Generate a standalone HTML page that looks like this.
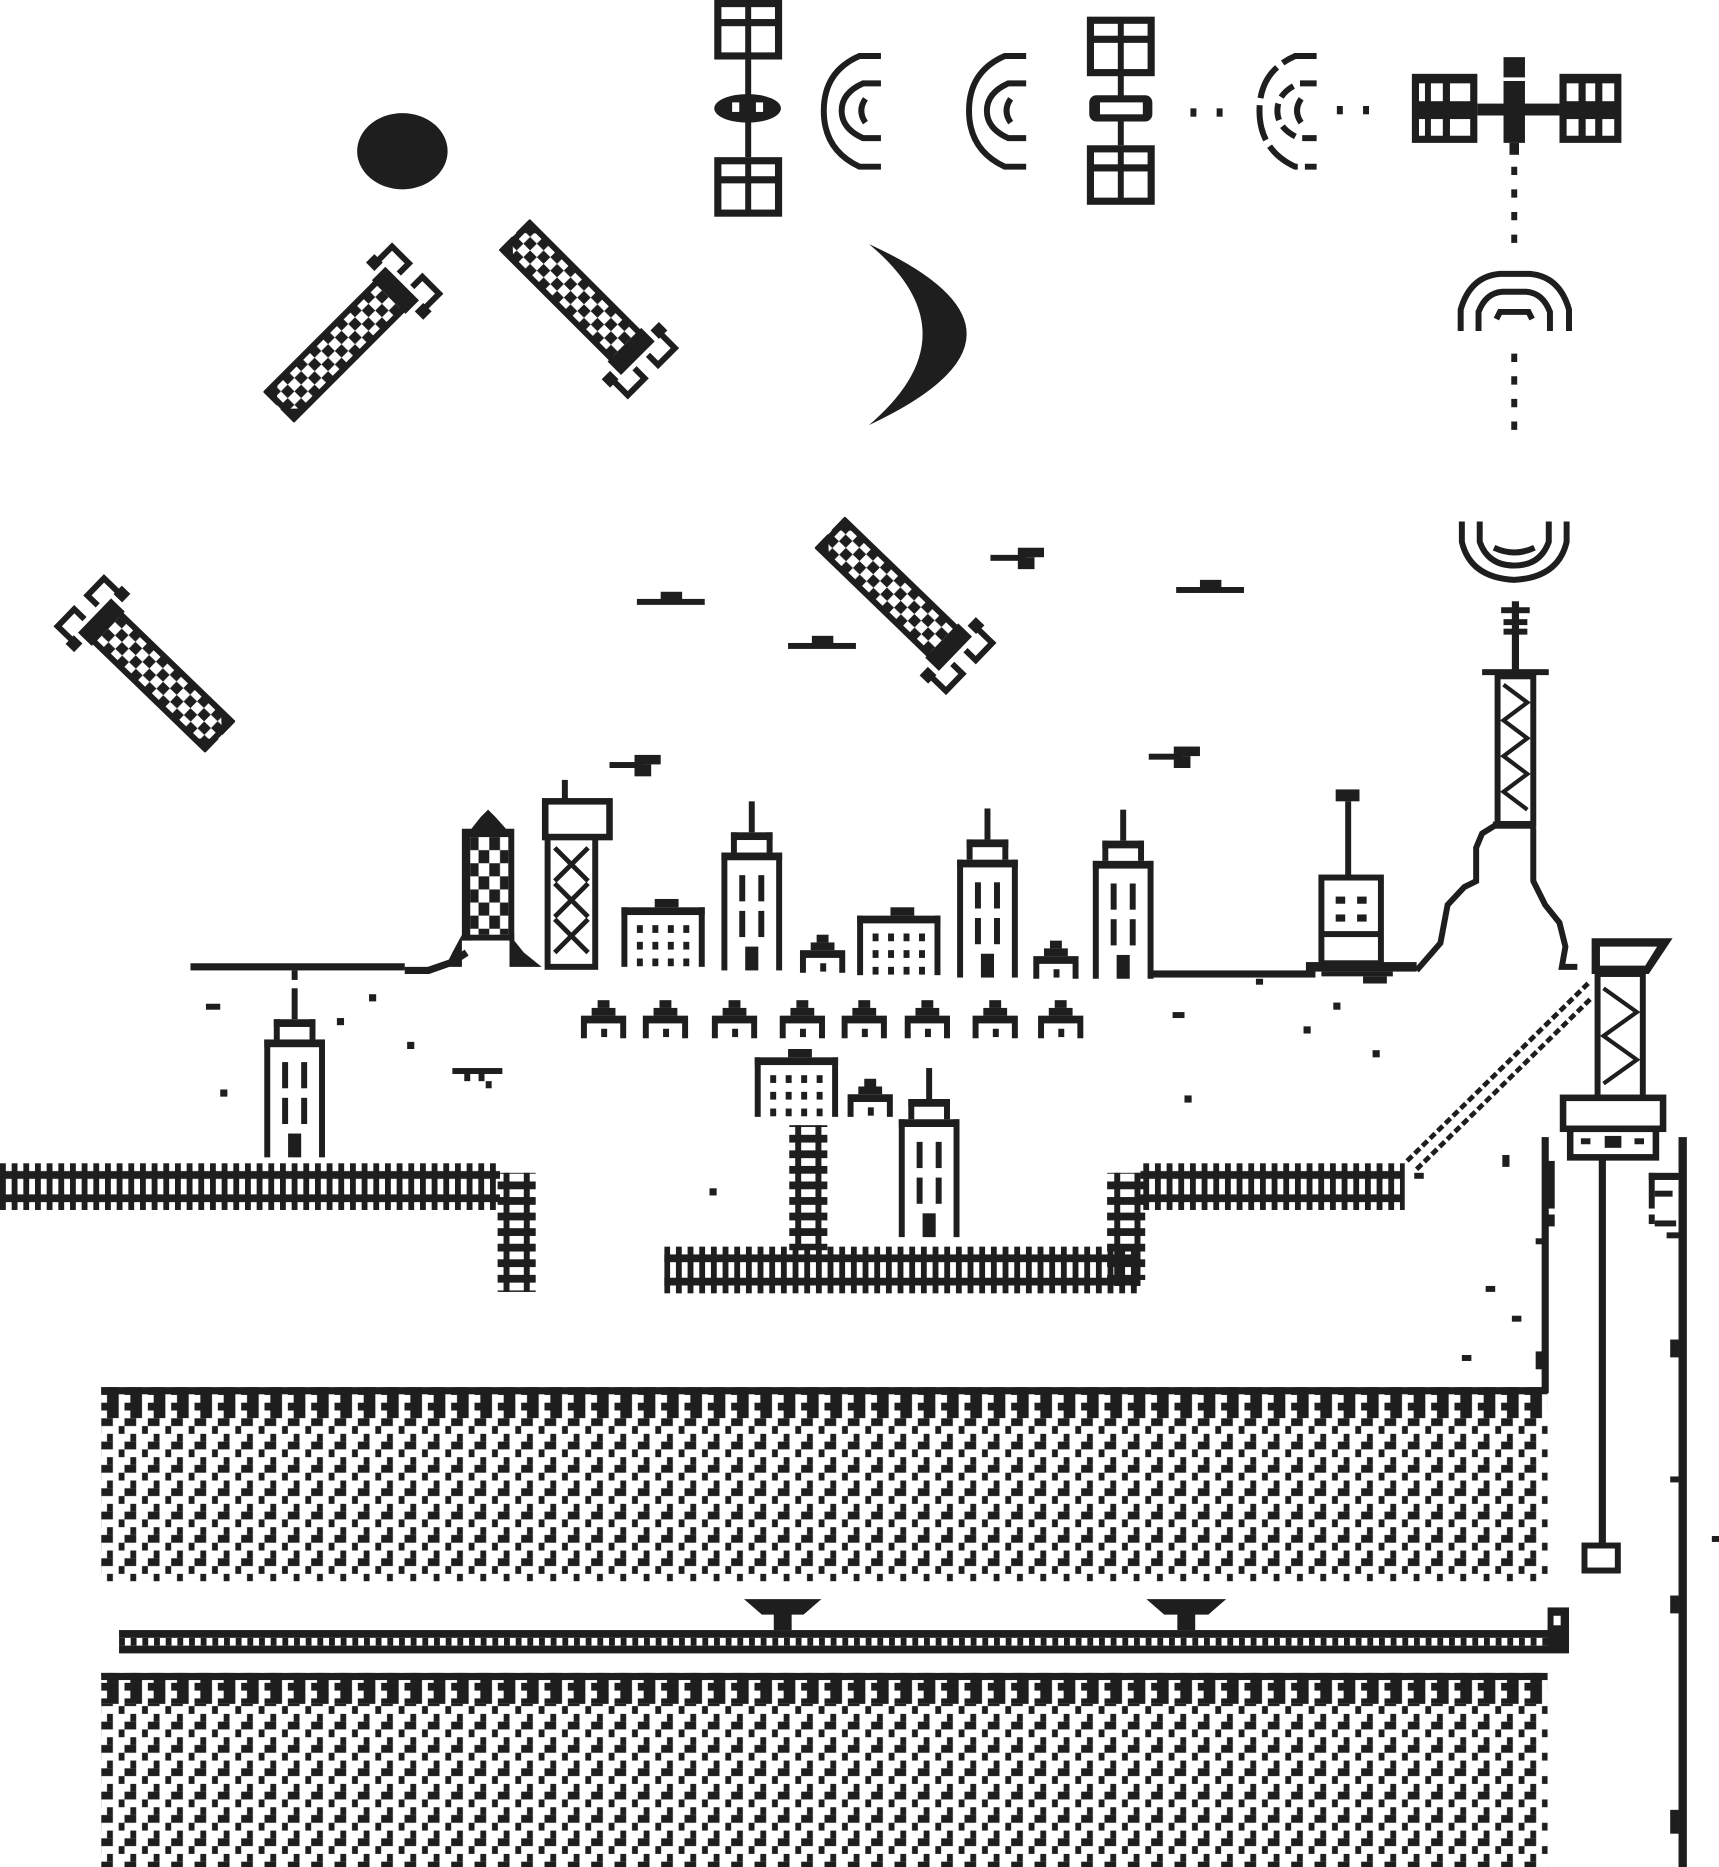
<!DOCTYPE html>
<html><head><meta charset="utf-8"><style>html,body{margin:0;padding:0;background:#fff}svg{display:block}</style></head>
<body>
<svg width="1719" height="1867" viewBox="0 0 1444 1568" preserveAspectRatio="none" xmlns="http://www.w3.org/2000/svg">
<defs>
<pattern id="tex" width="19.6" height="19.6" patternUnits="userSpaceOnUse" x="85" y="1165">
<rect x="4.9" y="0" width="4.9" height="6.53" fill="#1e1e1e"/>
<rect x="0" y="6.53" width="9.8" height="6.53" fill="#1e1e1e"/>
<rect x="14.7" y="13.07" width="4.9" height="6.53" fill="#1e1e1e"/>
</pattern>
<pattern id="texd" width="19.6" height="13.07" patternUnits="userSpaceOnUse" x="85" y="1165">
<rect x="0" y="0" width="14.7" height="6.53" fill="#1e1e1e"/>
<rect x="4.9" y="6.53" width="9.8" height="6.53" fill="#1e1e1e"/>
</pattern>
<pattern id="rail" width="9.8" height="19.6" patternUnits="userSpaceOnUse" x="100" y="1369">
<rect x="0" y="0" width="9.8" height="6.53" fill="#1e1e1e"/>
<rect x="0" y="6.53" width="4.9" height="6.53" fill="#1e1e1e"/>
<rect x="0" y="13.07" width="9.8" height="6.53" fill="#1e1e1e"/>
</pattern>
<pattern id="trk1" width="9.8" height="39.2" patternUnits="userSpaceOnUse" x="0" y="977">
<rect x="0" y="6.53" width="9.8" height="6.53" fill="#1e1e1e"/>
<rect x="0" y="26.1" width="9.8" height="6.53" fill="#1e1e1e"/>
<rect x="0" y="0" width="4.9" height="39.2" fill="#1e1e1e"/>
</pattern>
<pattern id="trk2" width="9.8" height="39.2" patternUnits="userSpaceOnUse" x="558" y="1047">
<rect x="0" y="6.53" width="9.8" height="6.53" fill="#1e1e1e"/>
<rect x="0" y="26.1" width="9.8" height="6.53" fill="#1e1e1e"/>
<rect x="0" y="0" width="4.9" height="39.2" fill="#1e1e1e"/>
</pattern>
<pattern id="trkv" width="30" height="13.07" patternUnits="userSpaceOnUse" x="0" y="940">
<rect x="0" y="0" width="30" height="6.53" fill="#1e1e1e"/>
</pattern>
<pattern id="chk" width="16" height="16" patternUnits="userSpaceOnUse">
<rect x="0" y="0" width="8" height="8" fill="#1e1e1e"/><rect x="8" y="8" width="8" height="8" fill="#1e1e1e"/>
</pattern>
<pattern id="chk2" width="18" height="22" patternUnits="userSpaceOnUse" x="393" y="703">
<rect x="0" y="0" width="9" height="11" fill="#1e1e1e"/><rect x="9" y="11" width="9" height="11" fill="#1e1e1e"/>
</pattern>
<g id="tall" fill="#1e1e1e">
<rect x="23" y="0" width="5" height="26"/>
<rect x="8" y="26" width="35" height="6.5"/><rect x="8" y="26" width="5" height="17"/><rect x="38" y="26" width="5" height="17"/>
<rect x="0" y="43" width="51" height="6.5"/><rect x="0" y="43" width="5" height="99"/><rect x="46" y="43" width="5" height="99"/>
<rect x="15" y="62" width="5" height="22"/><rect x="31" y="62" width="5" height="22"/>
<rect x="15" y="92" width="5" height="22"/><rect x="31" y="92" width="5" height="22"/>
<rect x="20" y="122" width="11" height="20"/>
</g>
<g id="house" fill="#1e1e1e">
<rect x="14" y="0" width="10" height="6.5"/><rect x="9" y="6.5" width="20" height="6.5"/><rect x="0" y="13" width="38" height="6.5"/>
<rect x="0" y="19" width="5" height="13"/><rect x="33" y="19" width="5" height="13"/><rect x="17" y="24" width="5" height="7"/>
</g>
<g id="office" fill="#1e1e1e">
<rect x="28" y="0" width="20" height="7"/><rect x="0" y="7" width="70" height="6.5"/>
<rect x="0" y="7" width="5" height="50"/><rect x="65" y="7" width="5" height="50"/>
<g id="wr"><rect x="13" y="22" width="5" height="6.5"/><rect x="26" y="22" width="5" height="6.5"/><rect x="39" y="22" width="5" height="6.5"/><rect x="52" y="22" width="5" height="6.5"/></g>
<use href="#wr" y="14"/><use href="#wr" y="28"/>
</g>
<g id="rocket">
<rect x="0" y="-16" width="135" height="32" fill="url(#chk)" stroke="#1e1e1e" stroke-width="5"/>
<polygon points="-3,-18 14,-18 -3,-2" fill="#1e1e1e"/>
<polygon points="-3,18 14,18 -3,2" fill="#1e1e1e"/>
<rect x="128" y="-20" width="16" height="40" fill="#1e1e1e"/>
<path d="M144,-28 L160,-28 L160,-8 L148,-8" fill="none" stroke="#1e1e1e" stroke-width="5"/>
<path d="M144,28 L160,28 L160,8 L148,8" fill="none" stroke="#1e1e1e" stroke-width="5"/>
<rect x="135" y="-34" width="10" height="10" fill="#1e1e1e"/>
<rect x="135" y="24" width="10" height="10" fill="#1e1e1e"/>
</g>
<g id="panel" fill="#1e1e1e">
<rect x="0" y="0" width="57" height="50"/>
<rect x="6" y="6" width="20" height="10" fill="#fff"/><rect x="31" y="6" width="20" height="10" fill="#fff"/>
<rect x="6" y="22" width="20" height="22" fill="#fff"/><rect x="31" y="22" width="20" height="22" fill="#fff"/>
</g>
<g id="bird" fill="#1e1e1e"><rect x="0" y="6" width="57" height="5"/><rect x="20" y="0" width="18" height="8"/></g>
</defs>

<!-- bottom ground -->
<rect x="85" y="1165" width="1215" height="163" fill="url(#tex)"/>
<rect x="85" y="1165" width="1215" height="26" fill="#fff"/>
<rect x="85" y="1165" width="1215" height="26" fill="url(#texd)"/>
<rect x="85" y="1165" width="1215" height="6" fill="#1e1e1e"/>
<rect x="85" y="1405" width="1215" height="163" fill="url(#tex)"/>
<rect x="85" y="1405" width="1215" height="26" fill="#fff"/>
<rect x="85" y="1405" width="1215" height="26" fill="url(#texd)"/>
<rect x="85" y="1405" width="1215" height="6" fill="#1e1e1e"/>
<rect x="100" y="1369" width="1218" height="19.6" fill="url(#rail)"/>
<rect x="1300" y="1350" width="18" height="38" fill="#1e1e1e"/><rect x="1305" y="1357" width="6" height="8" fill="#fff"/>
<polygon points="625,1343 690,1343 675,1356 665,1356 665,1369 650,1369 650,1356 640,1356" fill="#1e1e1e"/>
<polygon points="963,1343 1030,1343 1015,1356 1004,1356 1004,1369 989,1369 989,1356 978,1356" fill="#1e1e1e"/>

<!-- tracks -->
<rect x="0" y="977" width="420" height="39.2" fill="url(#trk1)"/>
<rect x="418" y="985" width="32" height="100" fill="url(#trkv)"/>
<rect x="423" y="985" width="5" height="100" fill="#1e1e1e"/><rect x="440" y="985" width="5" height="100" fill="#1e1e1e"/>
<rect x="558" y="1047" width="400" height="39.2" fill="url(#trk2)"/>
<rect x="663" y="945" width="32" height="105" fill="url(#trkv)"/>
<rect x="668" y="945" width="5" height="105" fill="#1e1e1e"/><rect x="685" y="945" width="5" height="105" fill="#1e1e1e"/>
<rect x="930" y="985" width="32" height="90" fill="url(#trkv)"/>
<rect x="936" y="985" width="5" height="95" fill="#1e1e1e"/><rect x="953" y="985" width="5" height="95" fill="#1e1e1e"/>
<rect x="958" y="977" width="222" height="39.2" fill="url(#trk1)"/>
<line x1="1182" y1="975" x2="1335" y2="825" stroke="#1e1e1e" stroke-width="4" stroke-dasharray="6 3"/>
<line x1="1190" y1="982" x2="1337" y2="838" stroke="#1e1e1e" stroke-width="4" stroke-dasharray="6 3"/>

<!-- ground lines -->
<rect x="160" y="809" width="180" height="6" fill="#1e1e1e"/>
<polyline points="340,815 360,815 380,808 392,800" fill="none" stroke="#1e1e1e" stroke-width="6"/>
<rect x="965" y="815" width="140" height="6" fill="#1e1e1e"/>
<rect x="245" y="815" width="5" height="8" fill="#1e1e1e"/>

<!-- city -->
<polygon points="410,680 416,686 425,696 432,696 432,790 388,790 388,696 396,696 404,686" fill="#1e1e1e"/>
<rect x="395" y="703" width="32" height="82" fill="#fff"/>
<rect x="395" y="703" width="32" height="82" fill="url(#chk2)"/>
<polygon points="388,785 388,812 374,812 380,800" fill="#1e1e1e"/>
<polygon points="432,785 432,790 440,800 455,812 428,812 428,785" fill="#1e1e1e"/>
<rect x="397" y="790" width="30" height="22" fill="#fff"/>
<rect x="472" y="655" width="5" height="18" fill="#1e1e1e"/>
<rect x="458" y="673" width="54" height="30" fill="none" stroke="#1e1e1e" stroke-width="5.5"/>
<rect x="460" y="703" width="40" height="109" fill="none" stroke="#1e1e1e" stroke-width="5"/>
<path d="M466,712 L494,740 M494,712 L466,740 M466,742 L494,770 M494,742 L466,770 M466,772 L494,800 M494,772 L466,800" stroke="#1e1e1e" stroke-width="4"/>
<use href="#office" x="522" y="755"/>
<use href="#tall" x="606" y="673"/>
<use href="#house" x="672" y="785"/>
<use href="#office" x="720" y="762"/>
<use href="#tall" x="804" y="679"/>
<use href="#house" x="868" y="790"/>
<use href="#tall" x="918" y="680"/>
<use href="#house" x="488" y="840"/><use href="#house" x="540" y="840"/><use href="#house" x="598" y="840"/><use href="#house" x="655" y="840"/>
<use href="#house" x="707" y="840"/><use href="#house" x="760" y="840"/><use href="#house" x="817" y="840"/><use href="#house" x="872" y="840"/>
<use href="#office" x="634" y="881"/>
<use href="#house" x="712" y="906"/>
<use href="#tall" x="755" y="897"/>
<use href="#tall" x="222" y="830"/>

<!-- robot on ground -->
<g fill="#1e1e1e">
<rect x="1122" y="663" width="20" height="10"/><rect x="1130" y="673" width="5" height="64"/>
<rect x="1110" y="737" width="50" height="72" fill="none" stroke="#1e1e1e" stroke-width="5"/>
<rect x="1122" y="753" width="8" height="6"/><rect x="1140" y="753" width="8" height="6"/><rect x="1122" y="768" width="8" height="6"/><rect x="1140" y="768" width="8" height="6"/>
<rect x="1112" y="782" width="46" height="5"/>
<rect x="1097" y="808" width="93" height="8"/><rect x="1110" y="816" width="60" height="4"/><rect x="1145" y="820" width="20" height="6"/>
</g>
<!-- hill + antenna tower -->
<polyline points="1190,815 1210,792 1216,760 1230,745 1240,740 1240,712 1245,700 1258,692" fill="none" stroke="#1e1e1e" stroke-width="5"/>
<polyline points="1288,695 1288,740 1298,760 1310,775 1315,795 1312,812 1325,812" fill="none" stroke="#1e1e1e" stroke-width="5"/>
<rect x="1254" y="690" width="36" height="6" fill="#1e1e1e"/>
<rect x="1258" y="568" width="30" height="124" fill="none" stroke="#1e1e1e" stroke-width="5"/>
<path d="M1263,575 L1283,590 L1263,605 L1283,620 L1263,635 L1283,650 L1263,665 L1283,680" fill="none" stroke="#1e1e1e" stroke-width="3.5"/>
<rect x="1245" y="562" width="56" height="5" fill="#1e1e1e"/>
<rect x="1270" y="505" width="6" height="58" fill="#1e1e1e"/>
<rect x="1261" y="510" width="24" height="5" fill="#1e1e1e"/><rect x="1263" y="520" width="20" height="5" fill="#1e1e1e"/><rect x="1263" y="528" width="20" height="5" fill="#1e1e1e"/>
<g fill="none" stroke="#1e1e1e" stroke-width="5">
<path d="M1228,438 L1228,455 Q1235,485 1272,487 Q1309,485 1316,455 L1316,438"/>
<path d="M1243,438 L1243,455 Q1250,475 1272,475 Q1294,475 1301,455 L1301,438"/>
<path d="M1255,460 Q1272,468 1289,460"/>
</g>
<!-- right tower -->
<polygon points="1337,788 1405,788 1395,803 1385,818 1337,818" fill="#1e1e1e"/>
<polygon points="1344,795 1392,795 1382,811 1344,811" fill="#fff"/>
<rect x="1342" y="818" width="38" height="104" fill="none" stroke="#1e1e1e" stroke-width="5"/>
<path d="M1347,830 L1375,850 L1347,870 L1375,890 L1347,910" fill="none" stroke="#1e1e1e" stroke-width="3.5"/>
<rect x="1313" y="922" width="84" height="26" fill="none" stroke="#1e1e1e" stroke-width="5.5"/>
<rect x="1319" y="948" width="72" height="24" fill="none" stroke="#1e1e1e" stroke-width="5.5"/>
<rect x="1328" y="956" width="8" height="5" fill="#1e1e1e"/><rect x="1348" y="954" width="14" height="10" fill="#1e1e1e"/><rect x="1373" y="956" width="8" height="5" fill="#1e1e1e"/>
<rect x="1343" y="972" width="6" height="325" fill="#1e1e1e"/>
<rect x="1331" y="1298" width="28" height="21" fill="none" stroke="#1e1e1e" stroke-width="5"/>
<!-- rough right edges -->
<g fill="#1e1e1e">
<rect x="1295" y="955" width="6" height="215"/><rect x="1298" y="975" width="8" height="40"/><rect x="1298" y="1020" width="8" height="10"/><rect x="1290" y="1040" width="6" height="5"/><rect x="1290" y="1135" width="6" height="15"/>
<rect x="1410" y="955" width="7" height="613"/><rect x="1403" y="1125" width="7" height="15"/><rect x="1403" y="1240" width="7" height="5"/><rect x="1403" y="1340" width="7" height="15"/><rect x="1403" y="1520" width="7" height="20"/>
<rect x="1385" y="985" width="25" height="6"/><rect x="1385" y="985" width="5" height="30"/><rect x="1390" y="1000" width="15" height="5"/><rect x="1385" y="1020" width="5" height="8"/><rect x="1390" y="1025" width="18" height="5"/><rect x="1400" y="1035" width="10" height="5"/>
<rect x="1438" y="1290" width="6" height="5"/>
</g>

<!-- scattered dots -->
<g fill="#1e1e1e">
<rect x="173" y="843" width="12" height="5"/><rect x="185" y="915" width="6" height="6"/><rect x="283" y="855" width="6" height="6"/><rect x="310" y="835" width="6" height="6"/><rect x="342" y="875" width="6" height="6"/>
<rect x="596" y="998" width="6" height="6"/><rect x="985" y="850" width="10" height="5"/><rect x="995" y="920" width="6" height="6"/><rect x="1055" y="822" width="6" height="5"/><rect x="1095" y="862" width="6" height="6"/><rect x="1120" y="842" width="6" height="6"/><rect x="1153" y="882" width="6" height="6"/>
<rect x="1188" y="985" width="8" height="5"/><rect x="1262" y="970" width="6" height="10"/><rect x="1248" y="1080" width="8" height="5"/><rect x="1270" y="1105" width="8" height="5"/><rect x="1228" y="1138" width="8" height="5"/>
<rect x="380" y="897" width="42" height="5"/><rect x="390" y="902" width="5" height="6"/><rect x="402" y="902" width="5" height="6"/><rect x="408" y="908" width="5" height="6"/>
</g>

<!-- birds -->
<use href="#bird" x="535" y="497"/>
<use href="#bird" x="662" y="534"/>
<use href="#bird" x="988" y="487"/>
<g fill="#1e1e1e">
<rect x="832" y="466" width="30" height="5"/><rect x="855" y="460" width="22" height="8"/><rect x="855" y="468" width="14" height="10"/>
<rect x="512" y="640" width="28" height="5"/><rect x="533" y="634" width="22" height="8"/><rect x="533" y="642" width="14" height="10"/>
<rect x="965" y="633" width="28" height="5"/><rect x="986" y="627" width="22" height="8"/><rect x="986" y="635" width="14" height="10"/>
</g>

<!-- sky -->
<ellipse cx="338" cy="127" rx="38" ry="32" fill="#1e1e1e"/>
<use href="#rocket" transform="translate(236,340) rotate(-45)"/>
<use href="#rocket" transform="translate(434,199) rotate(45)"/>
<use href="#rocket" transform="translate(183,617) rotate(-136)"/>
<use href="#rocket" transform="translate(699,449) rotate(44)"/>
<path d="M730,205 Q894,280 730,357 Q820,280 730,205 Z" fill="#1e1e1e"/>

<!-- satellites -->
<use href="#panel" x="600" y="0"/>
<use href="#panel" x="600" y="132"/>
<rect x="626" y="50" width="5" height="82" fill="#1e1e1e"/>
<ellipse cx="628" cy="91" rx="28" ry="12" fill="#1e1e1e"/><rect x="615" y="86" width="6" height="8" fill="#fff"/><rect x="635" y="86" width="6" height="8" fill="#fff"/>
<use href="#panel" x="913" y="14"/>
<use href="#panel" x="913" y="122"/>
<rect x="939" y="60" width="5" height="62" fill="#1e1e1e"/>
<rect x="915" y="80" width="53" height="22" rx="6" fill="#1e1e1e"/><rect x="924" y="86" width="36" height="10" fill="#fff"/>
<g fill="none" stroke="#1e1e1e" stroke-width="5">
<path d="M740,47 L722,47 Q692,60 692,93 Q692,126 722,140 L740,140"/>
<path d="M740,70 L725,70 Q707,78 707,93 Q707,108 725,116 L740,116"/>
<path d="M727,83 Q720,93 727,103"/>
<path d="M862,47 L844,47 Q814,60 814,93 Q814,126 844,140 L862,140"/>
<path d="M862,70 L847,70 Q829,78 829,93 Q829,108 847,116 L862,116"/>
<path d="M849,83 Q842,93 849,103"/>
<path d="M1106,47 L1088,47 Q1058,60 1058,93 Q1058,126 1088,140 L1106,140" stroke-dasharray="30 6"/>
<path d="M1106,70 L1091,70 Q1073,78 1073,93 Q1073,108 1091,116 L1106,116" stroke-dasharray="14 6"/>
<path d="M1093,83 Q1086,93 1093,103"/>
</g>
<g fill="#1e1e1e">
<rect x="1000" y="91" width="5" height="7"/><rect x="1022" y="91" width="5" height="7"/>
<rect x="1123" y="89" width="5" height="7"/><rect x="1145" y="89" width="5" height="7"/>
</g>
<!-- ISS -->
<g fill="#1e1e1e">
<rect x="1186" y="62" width="55" height="58"/><rect x="1310" y="62" width="52" height="58"/>
<rect x="1241" y="87" width="69" height="10"/>
<rect x="1263" y="48" width="18" height="72"/><rect x="1268" y="120" width="8" height="10"/>
</g>
<g fill="#fff">
<rect x="1192" y="70" width="5" height="15"/><rect x="1202" y="70" width="10" height="15"/><rect x="1218" y="70" width="17" height="15"/>
<rect x="1192" y="100" width="5" height="14"/><rect x="1202" y="100" width="10" height="14"/><rect x="1218" y="100" width="17" height="14"/>
<rect x="1316" y="70" width="10" height="15"/><rect x="1332" y="70" width="8" height="15"/><rect x="1346" y="70" width="10" height="15"/>
<rect x="1316" y="100" width="10" height="14"/><rect x="1332" y="100" width="8" height="14"/><rect x="1346" y="100" width="10" height="14"/>
<rect x="1263" y="65" width="18" height="3"/>
</g>
<line x1="1272" y1="140" x2="1272" y2="212" stroke="#1e1e1e" stroke-width="5" stroke-dasharray="7 12"/>
<line x1="1272" y1="297" x2="1272" y2="365" stroke="#1e1e1e" stroke-width="5" stroke-dasharray="7 12"/>
<g fill="none" stroke="#1e1e1e" stroke-width="5">
<path d="M1227,278 L1227,260 Q1235,232 1260,230 L1285,230 Q1310,232 1318,260 L1318,278"/>
<path d="M1242,278 L1242,262 Q1248,246 1262,245 L1282,245 Q1296,246 1302,262 L1302,278"/>
<path d="M1257,268 L1260,262 L1284,262 L1287,268"/>
</g>
</svg>
</body></html>
